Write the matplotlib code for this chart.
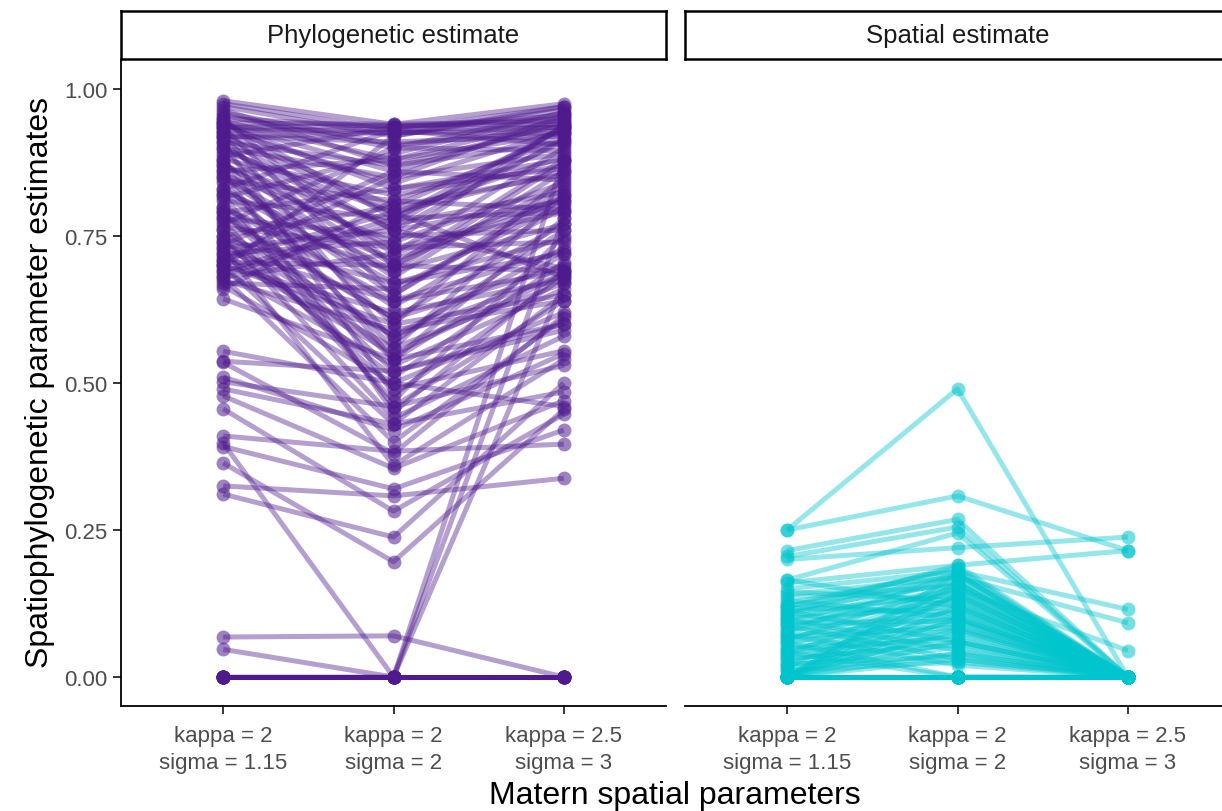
import numpy as np
import matplotlib
matplotlib.use("Agg")
import matplotlib.pyplot as plt

plt.rcParams['font.family'] = ['Liberation Sans', 'DejaVu Sans']

param_labels = ["kappa = 2\nsigma = 1.15", "kappa = 2\nsigma = 2", "kappa = 2.5\nsigma = 3"]
panel_titles = ["Phylogenetic estimate", "Spatial estimate"]
y_ticks = [0.00, 0.25, 0.50, 0.75, 1.00]

# Phylogenetic estimates per simulation under the three Matern settings
phylo_k2_s115 = [
    0, 0, 0, 0, 0, 0, 0, 0, 0, 0,
    0.068, 0.047, 0.000, 0.398, 0.325, 0.311, 0.364, 0.410, 0.392, 0.456,
    0.478, 0.490, 0.502, 0.510, 0.537, 0.554, 0.643, 0.535,
    0.980, 0.975, 0.970, 0.955, 0.950, 0.945, 0.940, 0.935, 0.930, 0.925,
    0.920, 0.915, 0.910, 0.905, 0.900, 0.895, 0.890, 0.885, 0.880, 0.875,
    0.870, 0.865, 0.860, 0.855, 0.850, 0.845, 0.840, 0.830, 0.825, 0.820,
    0.815, 0.810, 0.800, 0.795, 0.790, 0.785, 0.780, 0.775, 0.770, 0.765,
    0.760, 0.750, 0.745, 0.740, 0.735, 0.730, 0.725, 0.720, 0.715, 0.710,
    0.705, 0.700, 0.695, 0.690, 0.685, 0.680, 0.675, 0.670, 0.665, 0.660,
    0.950, 0.935, 0.925, 0.910, 0.880, 0.860, 0.820, 0.790, 0.760, 0.940,
    0.920, 0.900, 0.870, 0.850, 0.830, 0.800, 0.780, 0.740, 0.720, 0.700,
    0.690, 0.710, 0.965, 0.960, 0.945, 0.700, 0.680, 0.750, 0.730,
    0.935, 0.928, 0.942, 0.918,
]
phylo_k2_s2 = [
    0, 0, 0, 0, 0, 0, 0, 0, 0, 0,
    0.070, 0.000, 0.000, 0.000, 0.308, 0.238, 0.196, 0.384, 0.320, 0.282,
    0.355, 0.430, 0.460, 0.420, 0.520, 0.500, 0.540, 0.380,
    0.940, 0.930, 0.920, 0.900, 0.935, 0.880, 0.860, 0.925, 0.840, 0.800,
    0.910, 0.760, 0.870, 0.720, 0.850, 0.790, 0.700, 0.935, 0.820, 0.680,
    0.770, 0.600, 0.880, 0.740, 0.650, 0.810, 0.560, 0.930, 0.710, 0.630,
    0.890, 0.780, 0.540, 0.690, 0.830, 0.610, 0.750, 0.470, 0.900, 0.730,
    0.580, 0.800, 0.670, 0.510, 0.860, 0.760, 0.640, 0.740, 0.550, 0.790,
    0.700, 0.620, 0.920, 0.530, 0.770, 0.720, 0.590, 0.660, 0.500, 0.810,
    0.700, 0.650, 0.570, 0.480, 0.540, 0.450, 0.460, 0.520, 0.490, 0.830,
    0.790, 0.760, 0.730, 0.690, 0.670, 0.640, 0.610, 0.580, 0.560, 0.600,
    0.780, 0.850, 0.870, 0.905, 0.780, 0.430, 0.400, 0.440, 0.360,
    0.938, 0.932, 0.940, 0.926,
]
phylo_k25_s3 = [
    0, 0, 0, 0, 0, 0, 0, 0, 0, 0,
    0.000, 0.670, 0.880, 0.780, 0.338, 0.500, 0.455, 0.396, 0.420, 0.447,
    0.470, 0.485, 0.530, 0.550, 0.590, 0.460, 0.600, 0.615,
    0.975, 0.970, 0.965, 0.960, 0.955, 0.950, 0.945, 0.935, 0.930, 0.925,
    0.920, 0.915, 0.910, 0.900, 0.890, 0.885, 0.880, 0.950, 0.870, 0.860,
    0.935, 0.850, 0.925, 0.840, 0.830, 0.915, 0.820, 0.905, 0.810, 0.800,
    0.960, 0.790, 0.780, 0.875, 0.865, 0.770, 0.760, 0.750, 0.895, 0.740,
    0.730, 0.855, 0.720, 0.705, 0.845, 0.695, 0.690, 0.940, 0.685, 0.680,
    0.835, 0.675, 0.970, 0.660, 0.825, 0.815, 0.640, 0.805, 0.620, 0.795,
    0.690, 0.820, 0.760, 0.680, 0.720, 0.690, 0.640, 0.600, 0.555, 0.880,
    0.860, 0.810, 0.790, 0.770, 0.745, 0.725, 0.700, 0.685, 0.670, 0.650,
    0.935, 0.955, 0.940, 0.930, 0.910, 0.650, 0.610, 0.580, 0.540,
    0.940, 0.935, 0.945, 0.925,
]

# Spatial estimates per simulation under the three Matern settings
spatial_k2_s115 = [
    0, 0, 0, 0, 0, 0, 0, 0, 0, 0, 0, 0, 0, 0, 0,
    0.250, 0.250, 0.215, 0.205, 0.200, 0.160, 0.165, 0.150, 0.120, 0.100,
    0.165,
    0, 0, 0, 0, 0, 0, 0, 0, 0,
    0.120, 0.115, 0.110, 0.105, 0.100, 0.095, 0.090, 0.085, 0.080, 0.075,
    0.070, 0.065, 0.060, 0.055, 0.050, 0.045, 0.040, 0.035, 0.030, 0.025,
    0.020, 0.015, 0.010, 0.005, 0.112, 0.098, 0.088, 0.072, 0.058, 0.042,
    0.118, 0.092, 0.068, 0.048, 0.032, 0.022, 0.012, 0.140, 0.135, 0.145,
    0.130, 0.125, 0.108, 0.078, 0.062, 0.038, 0.018,
]
spatial_k2_s2 = [
    0, 0, 0, 0, 0, 0, 0, 0, 0, 0, 0, 0, 0, 0, 0,
    0.490, 0.308, 0.268, 0.255, 0.220, 0.190, 0.245, 0.180, 0.170, 0.150,
    0.120,
    0.175, 0.160, 0.140, 0.120, 0.100, 0.080, 0.060, 0.040, 0.030,
    0.185, 0.160, 0.140, 0.175, 0.120, 0.165, 0.130, 0.150, 0.110, 0.145,
    0.100, 0.135, 0.090, 0.125, 0.080, 0.115, 0.070, 0.105, 0.060, 0.095,
    0.050, 0.085, 0.040, 0.075, 0.060, 0.045, 0.030, 0.020, 0.000, 0.000,
    0.110, 0.095, 0.085, 0.065, 0.055, 0.035, 0.025, 0.170, 0.155, 0.130,
    0.100, 0.180, 0.190, 0.175, 0.160, 0.150, 0.140,
]
spatial_k25_s3 = [
    0, 0, 0, 0, 0, 0, 0, 0, 0, 0, 0, 0, 0, 0, 0,
    0.000, 0.215, 0.000, 0.000, 0.238, 0.215, 0.000, 0.115, 0.092, 0.045,
    0.000,
    0, 0, 0, 0, 0, 0, 0, 0, 0,
    0, 0, 0, 0, 0, 0, 0, 0, 0, 0,
    0, 0, 0, 0, 0, 0, 0, 0, 0, 0,
    0, 0, 0, 0, 0, 0, 0, 0, 0, 0,
    0, 0, 0, 0, 0, 0, 0, 0, 0, 0,
    0, 0, 0, 0, 0, 0, 0,
]

purple = "#4E1A8E"
cyan = "#00C5CD"
tick_grey = "#4D4D4D"

W, H = 1222, 812
fig = plt.figure(figsize=(W / 100, H / 100), dpi=100)

def px_rect(x0, y_top, x1, y_bot):
    return [x0 / W, 1 - y_bot / H, (x1 - x0) / W, (y_bot - y_top) / H]

panels = [
    (px_rect(121, 62, 666, 707), px_rect(121, 12, 666, 60),
     [phylo_k2_s115, phylo_k2_s2, phylo_k25_s3], purple, True),
    (px_rect(685, 62, 1230, 707), px_rect(685, 12, 1230, 60),
     [spatial_k2_s115, spatial_k2_s2, spatial_k25_s3], cyan, False),
]

xpos = np.arange(len(param_labels))
for (rect, srect, series, color, show_y), title in zip(panels, panel_titles):
    ax = fig.add_axes(rect)
    vals = np.array(series)  # shape (3, n_sim)
    ax.plot(xpos, vals, color=color, alpha=0.42, lw=3.6,
            solid_capstyle='butt', zorder=2)
    for i in range(len(xpos)):
        ax.scatter(np.full(vals.shape[1], xpos[i]), vals[i], s=100,
                   color=color, alpha=0.55, linewidths=0, zorder=3)
    ax.set_xlim(-0.6, 2.6)
    ax.set_ylim(-0.0493, 1.0476)
    ax.set_xticks(xpos)
    ax.set_xticklabels(param_labels, fontsize=16, color=tick_grey,
                       linespacing=1.4)
    ax.set_yticks(y_ticks)
    ax.set_yticklabels([f"{v:.2f}" for v in y_ticks], fontsize=16,
                       color=tick_grey)
    ax.tick_params(axis='both', length=5.5, width=1.1, color='black',
                   pad=4)
    ax.tick_params(axis='x', pad=8)
    for side in ['top', 'right']:
        ax.spines[side].set_visible(False)
    ax.spines['bottom'].set_linewidth(1.3)
    ax.spines['left'].set_linewidth(1.3)
    if not show_y:
        ax.spines['left'].set_visible(False)
        ax.tick_params(axis='y', left=False, labelleft=False)
    ax.patch.set_alpha(0)

    sax = fig.add_axes(srect)
    sax.set_xticks([])
    sax.set_yticks([])
    for sp in sax.spines.values():
        sp.set_linewidth(1.8)
        sp.set_color('black')
    sax.text(0.5, 0.5, title, ha='center', va='center', fontsize=18.5,
             color='#1A1A1A', transform=sax.transAxes)

fig.text(675 / W, 1 - 796 / H, "Matern spatial parameters", ha='center',
         va='center', fontsize=23)
fig.text(40 / W, 1 - 382 / H, "Spatiophylogenetic parameter estimates",
         ha='center', va='center', rotation=90, fontsize=23)

fig.savefig("out.png", dpi=100)
